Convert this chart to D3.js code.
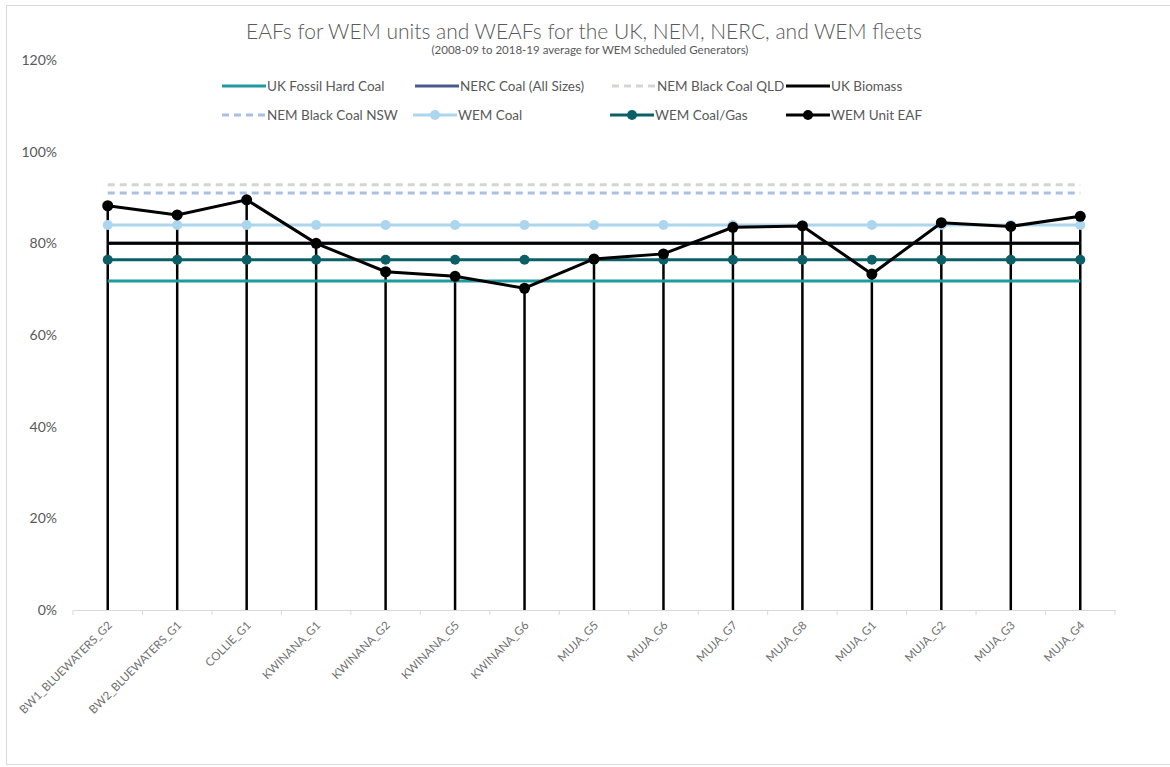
<!DOCTYPE html>
<html>
<head>
<meta charset="utf-8">
<script src="https://cdn.jsdelivr.net/npm/d3@7"></script>
<style>
  body { margin: 0; background: #fff; }
  svg { display: block; font-family: Lato, "Open Sans", sans-serif; }
</style>
</head>
<body>
<div id="chart"></div>
<script>
// Units on the x axis
const units = ["BW1_BLUEWATERS_G2", "BW2_BLUEWATERS_G1", "COLLIE_G1", "KWINANA_G1", "KWINANA_G2",
  "KWINANA_G5", "KWINANA_G6", "MUJA_G5", "MUJA_G6", "MUJA_G7", "MUJA_G8", "MUJA_G1", "MUJA_G2",
  "MUJA_G3", "MUJA_G4"];

// WEM unit EAF (%)
const unitEAF = [88.2, 86.2, 89.5, 80.0, 73.8, 72.8, 70.2, 76.6, 77.7, 83.5, 83.8, 73.3, 84.5, 83.7, 85.9];

// Fleet averages (%)
const fleetNames = ["UK Fossil Hard Coal", "NERC Coal (All Sizes)", "NEM Black Coal QLD", "UK Biomass",
  "NEM Black Coal NSW", "WEM Coal", "WEM Coal/Gas", "WEM Unit EAF"];
const fleetValues = [71.8, 80.0, 92.8, 80.0, 91.0, 84.0, 76.4, null];

const yTicks = [0, 20, 40, 60, 80, 100, 120];

(function() {
  const width = 1170, height = 767;
  const margin = { top: 60, right: 55, bottom: 157, left: 73 };

  const styles = {
    "UK Fossil Hard Coal": { color: "#1f9aa1", dash: null, marker: false },
    "NERC Coal (All Sizes)": { color: "#485a8c", dash: null, marker: false },
    "NEM Black Coal QLD": { color: "#d5d5d0", dash: "7,5", marker: false },
    "UK Biomass": { color: "#000000", dash: null, marker: false },
    "NEM Black Coal NSW": { color: "#aabfe3", dash: "7,5", marker: false },
    "WEM Coal": { color: "#acd6ee", dash: null, marker: true },
    "WEM Coal/Gas": { color: "#0c5f66", dash: null, marker: true },
    "WEM Unit EAF": { color: "#000000", dash: null, marker: true }
  };

  const svg = d3.select("#chart").append("svg")
    .attr("width", width)
    .attr("height", height);

  // outer chart border
  svg.append("rect")
    .attr("x", 6.5).attr("y", 5.5)
    .attr("width", 1200).attr("height", 759)
    .attr("fill", "#fff")
    .attr("stroke", "#d9d9d9");

  const x = d3.scaleBand()
    .domain(units)
    .range([margin.left, width - margin.right]);

  const y = d3.scaleLinear()
    .domain([0, 120])
    .range([height - margin.bottom, margin.top]);

  const cx = d => x(d) + x.bandwidth() / 2;

  // Title
  svg.append("text")
    .attr("x", 584).attr("y", 39)
    .attr("text-anchor", "middle")
    .attr("fill", "#595959")
    .attr("font-size", "21px")
    .attr("font-weight", 300)
    .text("EAFs for WEM units and WEAFs for the UK, NEM, NERC, and WEM fleets");

  svg.append("text")
    .attr("x", 590).attr("y", 54)
    .attr("text-anchor", "middle")
    .attr("fill", "#595959")
    .attr("font-size", "11.5px")
    .text("(2008-09 to 2018-19 average for WEM Scheduled Generators)");

  // Y axis labels
  svg.append("g")
    .selectAll("text")
    .data(yTicks)
    .join("text")
    .attr("x", 57)
    .attr("y", d => y(d))
    .attr("dy", "0.35em")
    .attr("text-anchor", "end")
    .attr("fill", "#595959")
    .attr("font-size", "14px")
    .text(d => d + "%");

  // X axis
  const xAxis = svg.append("g")
    .attr("transform", `translate(0,${y(0)})`)
    .call(d3.axisBottom(x).tickSize(0).tickFormat(""));
  xAxis.select(".domain").attr("stroke", "#d9d9d9");

  svg.append("g")
    .selectAll("line")
    .data(units.concat(["end"]))
    .join("line")
    .attr("x1", (d, i) => margin.left + i * x.step())
    .attr("x2", (d, i) => margin.left + i * x.step())
    .attr("y1", y(0))
    .attr("y2", y(0) + 5)
    .attr("stroke", "#d9d9d9");

  svg.append("g")
    .selectAll("text")
    .data(units)
    .join("text")
    .attr("transform", d => `translate(${cx(d) + 5},${y(0) + 16}) rotate(-45)`)
    .attr("text-anchor", "end")
    .attr("fill", "#6f6f6f")
    .attr("font-size", "11.5px")
    .text(d => d);

  // Drop lines from unit EAF
  svg.append("g")
    .selectAll("line")
    .data(units)
    .join("line")
    .attr("x1", d => cx(d)).attr("x2", d => cx(d))
    .attr("y1", (d, i) => y(unitEAF[i]))
    .attr("y2", y(0))
    .attr("stroke", "#000")
    .attr("stroke-width", 2.5);

  // Fleet lines (draw order matches legend order)
  const drawOrder = ["UK Fossil Hard Coal", "NERC Coal (All Sizes)", "NEM Black Coal QLD", "UK Biomass",
    "NEM Black Coal NSW", "WEM Coal", "WEM Coal/Gas"];
  drawOrder.forEach(name => {
    const v = fleetValues[fleetNames.indexOf(name)];
    const s = styles[name];
    const pts = units.map(u => [cx(u), y(v)]);
    svg.append("path")
      .attr("d", d3.line()(pts))
      .attr("fill", "none")
      .attr("stroke", s.color)
      .attr("stroke-width", 3)
      .attr("stroke-dasharray", s.dash);
    if (s.marker) {
      svg.append("g")
        .selectAll("circle")
        .data(pts)
        .join("circle")
        .attr("cx", d => d[0]).attr("cy", d => d[1])
        .attr("r", 5)
        .attr("fill", s.color);
    }
  });

  // Unit EAF line
  const eafPts = units.map((u, i) => [cx(u), y(unitEAF[i])]);
  svg.append("path")
    .attr("d", d3.line()(eafPts))
    .attr("fill", "none")
    .attr("stroke", "#000")
    .attr("stroke-width", 3);
  svg.append("g")
    .selectAll("circle")
    .data(eafPts)
    .join("circle")
    .attr("cx", d => d[0]).attr("cy", d => d[1])
    .attr("r", 5.5)
    .attr("fill", "#000");

  // Legend
  const legendPos = [
    [222, 86], [415, 86], [612, 86], [786, 86],
    [222, 115], [413, 115], [610, 115], [786, 115]
  ];
  const legend = svg.append("g")
    .selectAll("g")
    .data(fleetNames)
    .join("g")
    .attr("transform", (d, i) => `translate(${legendPos[i][0]},${legendPos[i][1]})`);

  legend.append("line")
    .attr("x1", 0).attr("x2", 44)
    .attr("stroke", d => styles[d].color)
    .attr("stroke-width", 3)
    .attr("stroke-dasharray", d => styles[d].dash);

  legend.filter(d => styles[d].marker)
    .append("circle")
    .attr("cx", 22)
    .attr("r", 5)
    .attr("fill", d => styles[d].color);

  legend.append("text")
    .attr("x", 45)
    .attr("dy", "0.35em")
    .attr("fill", "#595959")
    .attr("font-size", "13.5px")
    .text(d => d);
})();
</script>
</body>
</html>
